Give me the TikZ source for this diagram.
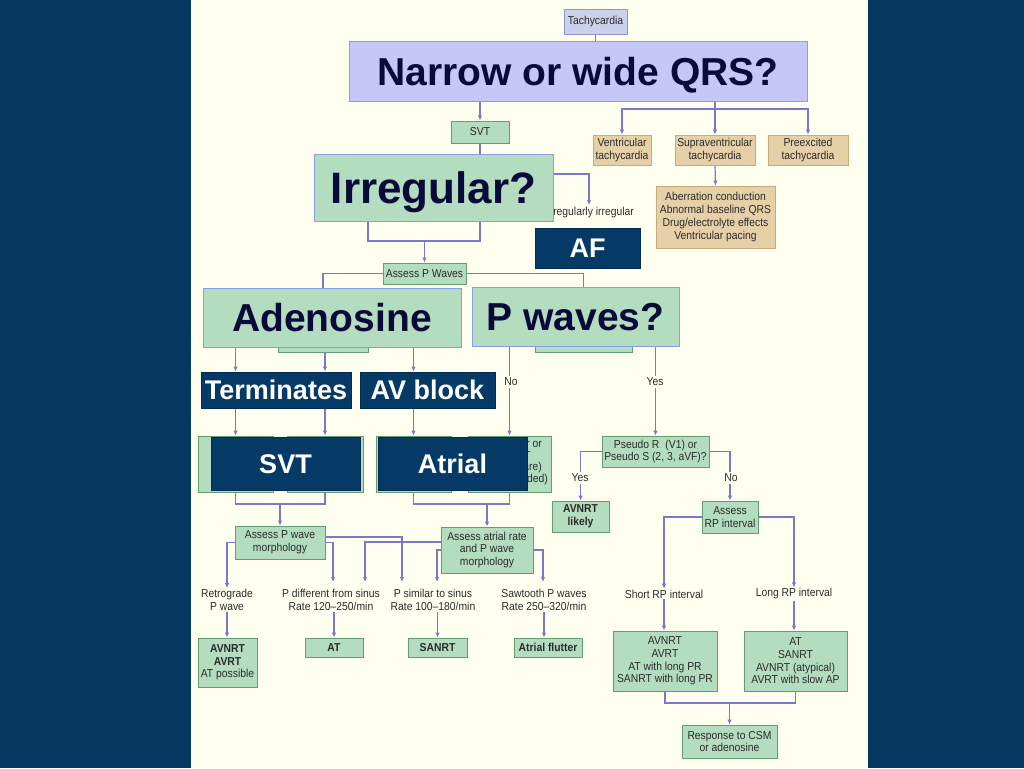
\documentclass[tikz,border=0pt]{standalone}
\usepackage{fontspec}
\setmainfont{Liberation Sans}
\newfontfamily\condf[FakeStretch=0.9,Ligatures=TeX]{Liberation Sans}
\usetikzlibrary{arrows.meta}
\pgfdeclarelayer{back}
\pgfdeclarelayer{edges}
\pgfsetlayers{back,edges,main}
\definecolor{navybg}{HTML}{053760}
\definecolor{cream}{HTML}{FFFFF0}
\definecolor{gf}{HTML}{B4DCBE}
\definecolor{gb}{HTML}{629E72}
\definecolor{lavf}{HTML}{C5C8F7}
\definecolor{lavb}{HTML}{8C9DE8}
\definecolor{tachf}{HTML}{C9D2EA}
\definecolor{tachb}{HTML}{8A96C8}
\definecolor{tanf}{HTML}{E6D0A8}
\definecolor{tanb}{HTML}{C8AA7C}
\definecolor{lc}{HTML}{7B78C9}
\definecolor{navbox}{HTML}{063A66}
\definecolor{navbd}{HTML}{042C50}
\definecolor{bigtc}{HTML}{0A0A3A}
\definecolor{tc}{HTML}{2B2B2B}
\newcommand\smallf{\condf\fontsize{11.5pt}{12.7pt}\selectfont}
\begin{document}
\begin{tikzpicture}[x=1pt,y=-1pt,
  sz/.style 2 args={minimum width=#1pt,minimum height=#2pt},
  txt/.style={font=\smallf,text=tc,inner sep=1pt,align=center},
  lbl/.style={txt,fill=cream,inner sep=1.5pt},
  gbox/.style={txt,draw=gb,fill=gf,line width=0.8pt},
  tanbox/.style={txt,draw=tanb,fill=tanf,line width=0.8pt},
  tbox/.style={txt,draw=tachb,fill=tachf,line width=0.8pt},
  bigq/.style={draw=lavb,line width=1pt,inner sep=0pt,text=bigtc,
    font=\bfseries\fontsize{39pt}{44pt}\selectfont,text height=28pt,text depth=0pt},
  qbox/.style={bigq,fill=lavf},
  bigg/.style={bigq,fill=gf},
  nav/.style={fill=navbox,draw=navbd,line width=0.8pt,inner sep=0pt,text=white,
    font=\bfseries\fontsize{27pt}{30pt}\selectfont,text height=19.3pt,text depth=0pt},
  conn/.style={draw=lc,line width=1.2pt},
  arr/.style={conn,-{Latex[length=5pt,width=4.5pt]}}]
\useasboundingbox (0,0) rectangle (1024,768);
\begin{pgfonlayer}{back}
\fill[navybg] (0,0) rectangle (1024,768);
\fill[cream] (191,0) rectangle (868,768);
\end{pgfonlayer}

% ---- top ----
\node[tbox,sz={63}{25}] (tachy) at (595.5,21.5) {Tachycardia};
\node[qbox,sz={458}{59}] (narrow) at (578,71.5) {Narrow or wide QRS?};
\node[gbox,sz={58}{22}] (svt) at (480,132) {SVT};
\node[tanbox,sz={58}{30}] (vt) at (622,150) {Ventricular\\tachycardia};
\node[tanbox,sz={80}{30}] (supra) at (715,150) {Supraventricular\\tachycardia};
\node[tanbox,sz={80}{30}] (pre) at (808,150) {Preexcited\\tachycardia};
\node[tanbox,sz={119}{62}] (aber) at (715.5,217) {Aberration conduction\\Abnormal baseline QRS\\Drug/electrolyte effects\\Ventricular pacing};
\node[txt,anchor=east] (irrtxt) at (635,213) {Irregularly irregular};
\node[bigg,sz={239}{67},font=\bfseries\fontsize{44pt}{48pt}\selectfont,text height=31.5pt] (irr) at (433.5,187.5) {Irregular?};
\node[nav,sz={105}{40}] (af) at (587.5,248) {AF};
\node[gbox,sz={83}{21}] (assessP) at (424.5,273.5) {Assess P Waves};

% ---- adenosine / P waves ----
\node[gbox,sz={90}{20}] (hid1) at (323,342) {};
\node[gbox,sz={97}{20}] (hid2) at (583.5,342) {};
\node[bigg,sz={258}{59}] (aden) at (332,317.5) {Adenosine};
\node[bigg,sz={207}{59}] (pw) at (575.5,316.5) {P waves?};
\node[nav,sz={150}{36}] (term) at (276,390) {Terminates};
\node[nav,sz={135}{36}] (avb) at (427.5,390) {AV block};
\node[lbl] (no1) at (511,382) {No};
\node[lbl] (yes1) at (655,382) {Yes};

\node[gbox,sz={75}{56}] (g1a) at (235.5,464) {};
\node[gbox,sz={76}{56}] (g1b) at (325,464) {};
\node[gbox,sz={75}{56}] (g2a) at (413.5,464) {};
\node[gbox,sz={83}{56}] (g2b) at (509.5,464) {};
\node[txt,anchor=east] (f1) at (543,444) {r or};
\node[txt,anchor=east] (f2) at (532,456) {T};
\node[txt,anchor=east] (f3) at (543,468) {are)};
\node[txt,anchor=east] (f4) at (549,480) {ded)};
\node[nav,sz={149}{53}] (svt2) at (285.5,463.5) {SVT};
\node[nav,sz={149}{53}] (atrial) at (452.5,463.5) {Atrial};

\node[gbox,sz={107}{31}] (pseudo) at (655.5,451.5) {Pseudo R\hspace{6pt}(V1) or\\Pseudo S (2, 3, aVF)?};
\node[lbl] (yes2) at (580,478) {Yes};
\node[lbl] (no2) at (731,478) {No};
\node[gbox,sz={57}{31}] (avnrtL) at (580.5,516.5) {\bfseries AVNRT\\\bfseries likely};
\node[gbox,sz={56}{32}] (rp) at (730,517) {Assess\\RP interval};

% ---- lower left ----
\node[gbox,sz={90}{33}] (pwm) at (280,542.5) {Assess P wave\\morphology};
\node[gbox,sz={92}{46}] (atr) at (487,550) {Assess atrial rate\\and P wave\\morphology};
\node[txt] (retro) at (227,600) {Retrograde\\P wave};
\node[txt] (pdiff) at (331,600) {P different from sinus\\Rate 120–250/min};
\node[txt] (psim) at (433,600) {P similar to sinus\\Rate 100–180/min};
\node[txt] (saw) at (544,600) {Sawtooth P waves\\Rate 250–320/min};
\node[gbox,sz={59}{49}] (b1) at (227.5,662.5) {\bfseries AVNRT\\\bfseries AVRT\\AT possible};
\node[gbox,sz={58}{19}] (at) at (334,647.5) {\bfseries AT};
\node[gbox,sz={59}{19}] (sanrt) at (437.5,647.5) {\bfseries SANRT};
\node[gbox,sz={68}{19}] (afl) at (548,647.5) {\bfseries Atrial flutter};

% ---- lower right ----
\node[txt] (short) at (664,594) {Short RP interval};
\node[txt] (long) at (794,594) {Long RP interval};
\node[gbox,sz={104}{60}] (bl) at (665,661) {AVNRT\\AVRT\\AT with long PR\\SANRT with long PR};
\node[gbox,sz={103}{60}] (br) at (795.5,661) {AT\\SANRT\\AVNRT (atypical)\\AVRT with slow AP};
\node[gbox,sz={95}{33}] (resp) at (729.5,741.5) {Response to CSM\\or adenosine};

% ---- junction coordinates ----
\coordinate (jn) at (715,109);
\coordinate (ii) at (589,205);
\coordinate (j2) at (424.5,241);
\coordinate (j3) at (280,504);
\coordinate (j4) at (487,504);
\coordinate (j5) at (729.5,703);
\coordinate (e1) at (333,582);
\coordinate (e2) at (402,582);
\coordinate (e3) at (365,582);
\coordinate (e4) at (437,582);
\coordinate (e5) at (543,582);

\begin{pgfonlayer}{edges}
\draw[conn] (tachy.south) -- (tachy.south |- narrow.north);
\draw[arr] (svt.north |- narrow.south) -- (svt.north);
\draw[arr] (supra.north |- narrow.south) -- (supra.north);
\draw[arr] (jn) -| (vt.north);
\draw[arr] (jn) -| (pre.north);
\draw[arr] (supra.south) -- (aber.north);
\draw[conn] (svt.south) -- (svt.south |- irr.north);
\draw[arr] ([yshift=13.5pt]irr.east) -| (ii);
\draw[conn] ([xshift=-65.5pt]irr.south) |- (j2) -| ([xshift=46.5pt]irr.south);
\draw[arr] (j2) -- (assessP.north);
\draw[arr] (assessP.west) -| (hid1.north);
\draw[arr] (assessP.east) -| (hid2.north);
\draw[arr] (g1a |- aden.south) -- (g1a |- term.north);
\draw[arr] (g1b |- aden.south) -- (g1b |- term.north);
\draw[arr] (g2a |- aden.south) -- (g2a |- avb.north);
\draw[arr] (g1a |- term.south) -- (g1a.north);
\draw[arr] (g1b |- term.south) -- (g1b.north);
\draw[arr] (g2a |- avb.south) -- (g2a.north);
\draw[arr] (g2b |- pw.south) -- (g2b.north);
\draw[arr] (pseudo.north |- pw.south) -- (pseudo.north);
\draw[arr] (pseudo.west) -| (avnrtL.north);
\draw[arr] (pseudo.east) -| (rp.north);
\draw[conn] (g1a.south) |- (j3) -| (g1b.south);
\draw[arr] (j3) -- (pwm.north);
\draw[conn] (g2a.south) |- (j4) -| (g2b.south);
\draw[arr] (j4) -- (atr.north);
\draw[arr] (pwm.west) -| (retro.north);
\draw[arr] ([yshift=5.5pt]pwm.east) -| (e2);
\draw[arr] (pwm.east) -| (e1);
\draw[arr] ([yshift=8pt]atr.west) -| (e3);
\draw[arr] (atr.west) -| (e4);
\draw[arr] (atr.east) -| (e5);
\draw[arr] (retro.south) -- (retro.south |- b1.north);
\draw[arr] (at.north |- pdiff.south) -- (at.north);
\draw[arr] (sanrt.north |- psim.south) -- (sanrt.north);
\draw[arr] (saw.south) -- (saw.south |- afl.north);
\draw[arr] (rp.west) -| (short.north);
\draw[arr] (rp.east) -| (long.north);
\draw[arr] (short.south) -- (short.south |- bl.north);
\draw[arr] (long.south) -- (long.south |- br.north);
\draw[conn] (bl.south) |- (j5) -| (br.south);
\draw[arr] (j5) -- (resp.north);
\end{pgfonlayer}
\end{tikzpicture}
\end{document}
